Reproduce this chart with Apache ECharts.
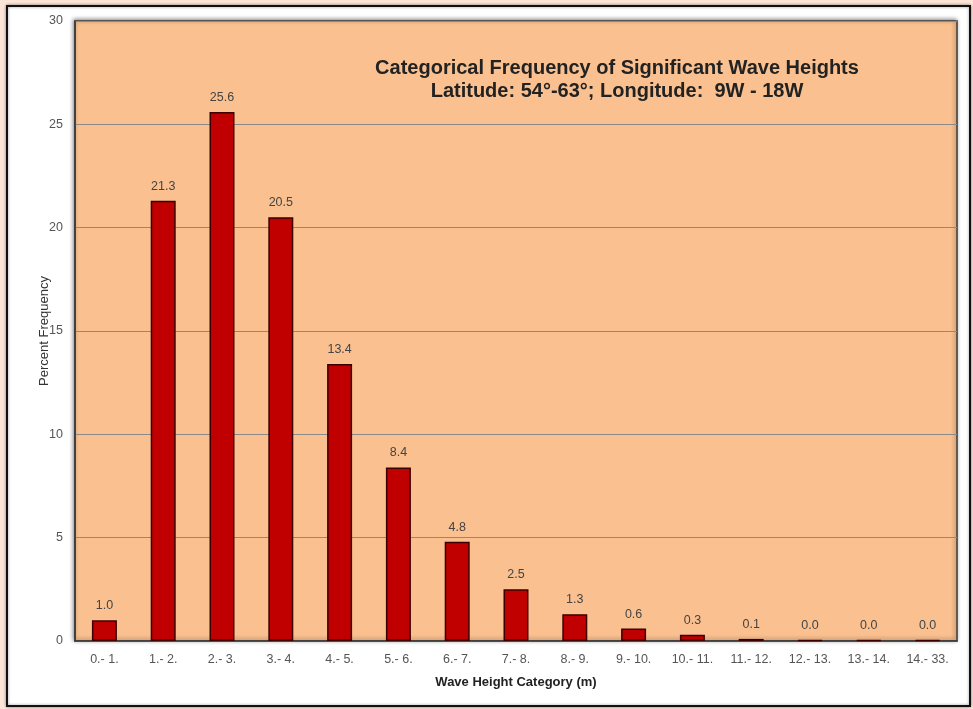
<!DOCTYPE html>
<html><head><meta charset="utf-8">
<script src="https://cdn.jsdelivr.net/npm/echarts@6/dist/echarts.min.js"></script>
<style>html,body{margin:0;padding:0;background:#FCE4D6;}#c{width:973px;height:709px;}</style>
</head><body><div id="c"></div>
<script>
const categories = ['0.- 1.','1.- 2.','2.- 3.','3.- 4.','4.- 5.','5.- 6.','6.- 7.','7.- 8.','8.- 9.','9.- 10.','10.- 11.','11.- 12.','12.- 13.','13.- 14.','14.- 33.'];
const frequency = [1.0, 21.3, 25.6, 20.5, 13.4, 8.4, 4.8, 2.5, 1.3, 0.6, 0.3, 0.1, 0.04, 0.04, 0.04];
const yTicks = [0, 5, 10, 15, 20, 25, 30];
const titleLines = ['Categorical Frequency of Significant Wave Heights', 'Latitude: 54°-63°; Longitude:  9W - 18W'];

const FONT = 'Liberation Sans, Arial, sans-serif';
const chart = echarts.init(document.getElementById('c'));
chart.setOption({
  backgroundColor: '#FCE4D6',
  animation: false,
  graphic: [
    {type:'rect', z:-10, shape:{x:7,y:6,width:963,height:700}, style:{fill:'#ffffff', stroke:'#111', lineWidth:2, shadowBlur:3, shadowColor:'rgba(0,0,0,0.4)'}}
  ],
  title: {
    text: titleLines.join('\n'),
    left: 612, top: 52, textAlign: 'center',
    textStyle: {fontFamily: FONT, fontSize: 20, fontWeight: 'bold', color: '#222', lineHeight: 23}
  },
  grid: {
    left: 75, top: 21, right: 16, bottom: 68, show: true,
    backgroundColor: '#FAC090', borderColor: '#3a3a3a', borderWidth: 1.5,
    shadowBlur: 4, shadowColor: 'rgba(0,0,0,0.45)', shadowOffsetX: -1, shadowOffsetY: -1
  },
  xAxis: {
    type: 'category', data: categories,
    name: 'Wave Height Category (m)', nameLocation: 'middle', nameGap: 35,
    nameTextStyle: {fontFamily: FONT, fontSize: 13, fontWeight: 'bold', color: '#222'},
    axisLine: {show: true, lineStyle: {color: '#3a3a3a', width: 1.5}},
    axisTick: {show: false},
    axisLabel: {fontFamily: FONT, fontSize: 12.5, color: '#555', margin: 12, interval: 0}
  },
  yAxis: {
    type: 'value', min: 0, max: 30, interval: 5,
    name: 'Percent Frequency', nameLocation: 'middle', nameGap: 24, nameRotate: 90,
    nameMoveOverlap: false,
    nameTextStyle: {fontFamily: FONT, fontSize: 13, color: '#333'},
    axisLine: {show: true, lineStyle: {color: '#3a3a3a', width: 1.5}},
    axisTick: {show: false},
    axisLabel: {fontFamily: FONT, fontSize: 12.5, color: '#555', margin: 12,
      formatter: v => yTicks.includes(v) ? String(v) : ''},
    splitLine: {show: true, lineStyle: {color: '#8a8a8a', width: 1}}
  },
  series: [{
    type: 'bar', data: frequency, barWidth: 25,
    itemStyle: {color: '#C00000', borderColor: '#3b0000', borderWidth: 1.5},
    label: {show: true, position: 'top', distance: 8, color: '#444', fontSize: 12.5,
      fontFamily: FONT, formatter: p => p.value.toFixed(1)}
  }]
});
</script></body></html>
